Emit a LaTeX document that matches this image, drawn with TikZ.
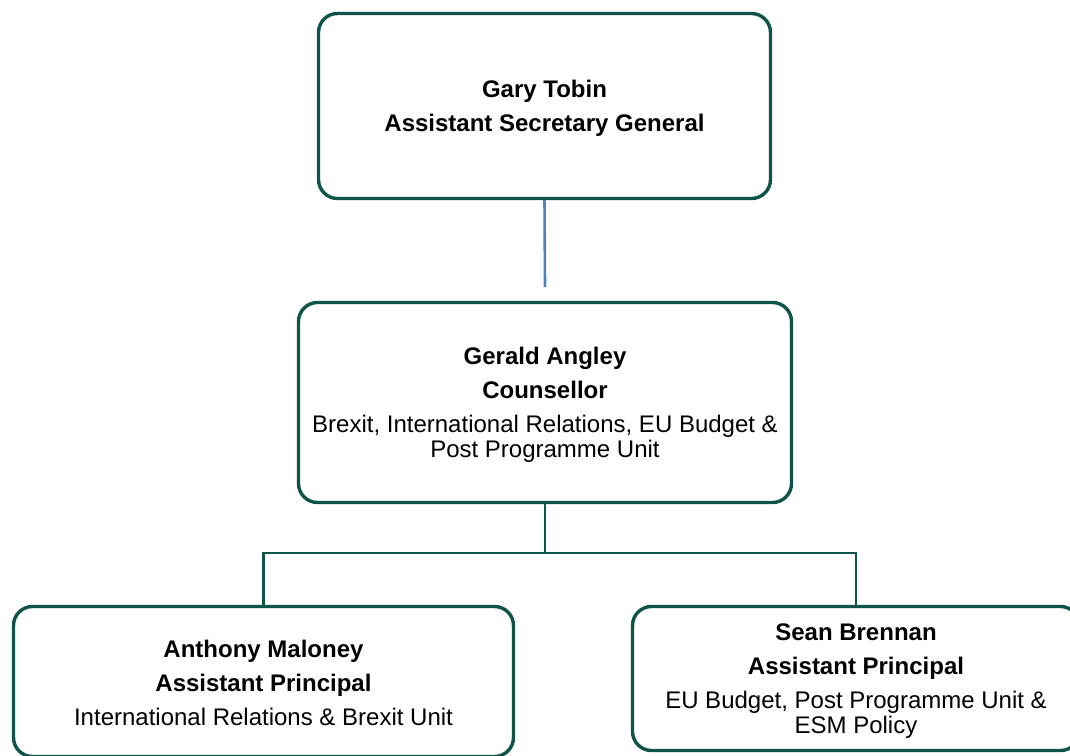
\documentclass[tikz,border=0pt]{standalone}
\usepackage{fontspec}
\setmainfont{Liberation Sans}
\definecolor{boxgreen}{RGB}{14,84,72}
\definecolor{linkblue}{RGB}{79,129,189}
\begin{document}
\begin{tikzpicture}[x=1pt,y=-1pt,
  person/.style={draw=boxgreen, line width=3.4pt, rounded corners=19pt,
    fill=white, inner sep=0pt},
  persontext/.style={align=center, inner sep=0pt,
    font=\fontsize{24}{25}\selectfont},
  link/.style={draw=boxgreen, line width=2.2pt},
  toplink/.style={draw=linkblue, line width=2.6pt}]
\useasboundingbox (0,0) rectangle (1070,755);
\clip (0,0) rectangle (1070,755);

% boxes
\node[person, minimum width=452pt, minimum height=185pt] (gary) at (544.5,106) {};
\node[person, minimum width=493pt, minimum height=200pt] (gerald) at (545,402.5) {};
\node[person, minimum width=500pt, minimum height=150pt] (anthony) at (263.5,681.5) {};
\node[person, minimum width=447pt, minimum height=144pt] (sean) at (856,678.5) {};

% names, titles and units
\node[persontext] (garytext) at ([yshift=-2pt]gary.center)
  {\textbf{Gary Tobin}\\[9pt]\textbf{Assistant Secretary General}};
\node[persontext] (geraldtext) at ([yshift=-2pt]gerald.center)
  {\textbf{Gerald Angley}\\[9pt]\textbf{Counsellor}\\[9pt]Brexit, International Relations, EU Budget \&\\Post Programme Unit};
\node[persontext] (anthonytext) at ([yshift=-1.5pt]anthony.center)
  {\textbf{Anthony Maloney}\\[9pt]\textbf{Assistant Principal}\\[9pt]International Relations \& Brexit Unit};
\node[persontext] (seantext) at ([yshift=-3pt]sean.center)
  {\textbf{Sean Brennan}\\[9pt]\textbf{Assistant Principal}\\[9pt]EU Budget, Post Programme Unit \&\\ESM Policy};

% connectors
\coordinate (garyend) at (545,287);
\draw[toplink] (gary.south) -- (garyend);
\coordinate (branch) at (545,553);
\draw[link] (gerald.south) -- (branch);
\draw[link] (branch) -| (anthony.north);
\draw[link] (branch) -| (sean.north);
\end{tikzpicture}
\end{document}
